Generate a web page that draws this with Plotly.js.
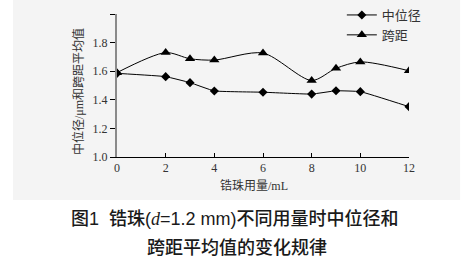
<!DOCTYPE html>
<html>
<head>
<meta charset="utf-8">
<script src="https://cdn.plot.ly/plotly-3.0.1.min.js"></script>
<style>html,body{margin:0;padding:0;background:#fff;}#chart{width:469px;height:262px;}</style>
</head>
<body>
<div id="chart"></div>
<script>
const xValues = [0, 2, 3, 4, 6, 8, 9, 10, 12];
const medianValues = [1.585, 1.562, 1.520, 1.462, 1.453, 1.440, 1.463, 1.457, 1.352];
const spanValues = [1.590, 1.730, 1.687, 1.678, 1.727, 1.535, 1.620, 1.665, 1.603];
const seriesNames = ['中位径', '跨距'];
const yTickVals = [1.0, 1.2, 1.4, 1.6, 1.8, 2.0];
const yTickText = ['1.0', '1.2', '1.4', '1.6', '1.8', ''];
const xTickVals = [0, 2, 4, 6, 8, 10, 12];
const xTitle = '锆珠用量/mL';
const yTitle = '中位径/μm和跨距平均值';
const captionLine1 = '图1  锆珠(<span style="font-family:Liberation Serif"><i>d</i></span>=1.2 mm)不同用量时中位径和';
const captionLine2 = '跨距平均值的变化规律';

const serif = 'Liberation Serif, "Noto Sans CJK SC", serif';
const cjk = '"Liberation Sans", "Noto Sans CJK SC", sans-serif';

const traces = [
  {x: xValues, y: medianValues, name: seriesNames[0], type: 'scatter', mode: 'lines+markers',
   line: {color: '#000', width: 1, shape: 'spline', smoothing: 0.3},
   marker: {symbol: 'diamond', size: 7, color: '#000'}},
  {x: xValues, y: spanValues, name: seriesNames[1], type: 'scatter', mode: 'lines+markers',
   line: {color: '#000', width: 1, shape: 'spline', smoothing: 0.8},
   marker: {symbol: 'triangle-up', size: 9, color: '#000'}}
];

const layout = {
  width: 469, height: 262,
  margin: {l: 117, r: 60, t: 14, b: 105, pad: 0, autoexpand: false},
  paper_bgcolor: '#ffffff',
  plot_bgcolor: 'rgba(0,0,0,0)',
  showlegend: true,
  legend: {xref: 'paper', yref: 'container', x: 0.77, y: 1.0, xanchor: 'left', yanchor: 'top', bgcolor: 'rgba(0,0,0,0)',
           font: {family: '"Noto Sans CJK SC", sans-serif', size: 13, color: '#333'}, itemwidth: 30, tracegroupgap: 0},
  xaxis: {range: [0, 12], tickvals: xTickVals, showgrid: false, zeroline: false,
          showline: true, linecolor: '#000', linewidth: 1,
          ticks: 'inside', ticklen: 4, tickcolor: '#000', tickwidth: 1,
          tickfont: {family: serif, size: 12, color: '#333'}},
  yaxis: {range: [1.0, 2.0], tickvals: yTickVals, ticktext: yTickText, showgrid: false, zeroline: false,
          showline: true, linecolor: '#8a8a8a', linewidth: 2,
          ticks: 'outside', ticklen: 5, tickcolor: '#000', tickwidth: 1,
          tickfont: {family: serif, size: 12, color: '#333'}},
  shapes: [
    {type: 'rect', xref: 'paper', yref: 'paper', x0: -0.356, x1: 1.175, y0: -0.301, y1: 1.098,
     fillcolor: '#f4f4f4', line: {width: 0}, layer: 'below'}
  ],
  annotations: [
    {text: xTitle, xref: 'paper', yref: 'paper', x: 0.47, y: -0.2, xanchor: 'center', yanchor: 'middle',
     showarrow: false, font: {family: serif, size: 12, color: '#333'}},
    {text: yTitle, xref: 'paper', yref: 'paper', x: -0.134, y: 0.46, xanchor: 'center', yanchor: 'middle',
     textangle: -90, showarrow: false, font: {family: serif, size: 12, color: '#333'}},
    {text: captionLine1, xref: 'paper', yref: 'paper', x: 0.405, y: -0.43, xanchor: 'center', yanchor: 'middle',
     showarrow: false, font: {family: cjk, size: 18, color: '#1a1a1a', weight: 500}},
    {text: captionLine2, xref: 'paper', yref: 'paper', x: 0.41, y: -0.63, xanchor: 'center', yanchor: 'middle',
     showarrow: false, font: {family: cjk, size: 18, color: '#1a1a1a', weight: 500}}
  ]
};

Plotly.newPlot('chart', traces, layout, {displayModeBar: false, staticPlot: true});
</script>
</body>
</html>
